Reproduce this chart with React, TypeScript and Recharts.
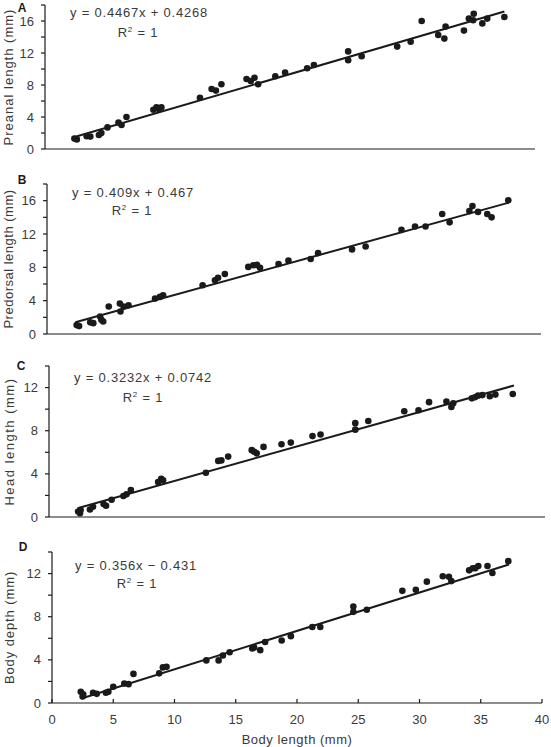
import { ScatterChart, Scatter, XAxis, YAxis } from "recharts";

// shared x ticks (body length, mm)
const xTicks = [0, 5, 10, 15, 20, 25, 30, 35, 40];

// A: preanal length vs body length
const preanalBody = [2.4, 2.6, 3.4, 3.7, 4.4, 4.6, 5.1, 6.0, 6.25, 6.65, 8.85, 9.1, 9.5, 9.3, 12.65, 13.6, 13.95, 14.4, 16.45, 16.8, 17.1, 17.4, 18.8, 19.6, 21.4, 21.95, 24.75, 24.75, 25.85, 28.75, 29.85, 30.75, 32.1, 32.6, 32.7, 34.2, 34.6, 35.0, 34.95, 35.7, 36.1, 37.5];
const preanalLen = [1.3, 1.2, 1.6, 1.55, 1.75, 2.0, 2.7, 3.3, 3.0, 4.0, 4.9, 5.2, 5.2, 5.0, 6.4, 7.5, 7.3, 8.1, 8.75, 8.5, 8.9, 8.1, 9.1, 9.55, 10.1, 10.5, 12.2, 11.1, 11.6, 12.8, 13.4, 16.0, 14.25, 13.8, 15.3, 14.8, 16.3, 16.9, 16.1, 15.7, 16.3, 16.5];

// B: predorsal length vs body length
const predorsalBody = [2.4, 2.6, 3.5, 3.75, 4.3, 4.4, 4.55, 5.0, 5.9, 5.95, 6.2, 6.6, 8.75, 9.15, 9.4, 12.6, 13.6, 13.85, 14.4, 16.3, 16.7, 17.0, 17.25, 18.75, 19.55, 21.35, 21.95, 24.7, 25.8, 28.7, 29.8, 30.65, 32.0, 32.6, 34.2, 34.45, 34.9, 35.65, 36.0, 37.35];
const predorsalLen = [1.07, 0.95, 1.4, 1.3, 2.1, 1.7, 1.5, 3.3, 3.65, 2.7, 3.3, 3.45, 4.25, 4.45, 4.65, 5.85, 6.45, 6.75, 7.2, 8.05, 8.25, 8.3, 7.95, 8.4, 8.8, 9.0, 9.7, 10.15, 10.5, 12.5, 12.9, 12.9, 14.4, 13.4, 14.75, 15.35, 14.65, 14.4, 14.0, 16.05];

// C: head length vs body length
const headBody = [2.35, 2.5, 2.55, 3.3, 3.55, 4.4, 4.6, 5.05, 6.0, 6.25, 6.6, 8.8, 9.05, 9.2, 12.65, 13.65, 13.9, 14.45, 16.35, 16.55, 16.75, 17.3, 18.75, 19.5, 21.25, 21.9, 24.7, 24.7, 25.75, 28.65, 29.8, 30.65, 32.05, 32.45, 32.6, 34.1, 34.35, 34.6, 34.95, 35.55, 36.0, 37.4];
const headLen = [0.5, 0.35, 0.65, 0.7, 0.95, 1.2, 1.05, 1.6, 1.95, 2.1, 2.5, 3.25, 3.55, 3.4, 4.1, 5.2, 5.25, 5.6, 6.2, 6.05, 5.9, 6.5, 6.75, 6.9, 7.5, 7.65, 8.7, 8.1, 8.9, 9.8, 9.9, 10.65, 10.7, 10.2, 10.55, 11.0, 11.1, 11.25, 11.3, 11.2, 11.35, 11.4];

// D: body depth vs body length
const depthBody = [2.35, 2.55, 2.5, 3.35, 3.65, 4.4, 4.6, 5.0, 5.9, 6.25, 6.65, 8.75, 9.05, 9.35, 12.6, 13.6, 13.95, 14.5, 16.35, 16.5, 17.0, 17.4, 18.75, 19.5, 21.25, 21.9, 24.6, 24.6, 25.7, 28.6, 29.7, 30.6, 31.9, 32.4, 32.6, 34.05, 34.35, 34.55, 34.8, 35.55, 35.95, 37.25];
const depthLen = [1.05, 0.8, 0.6, 0.95, 0.85, 0.95, 1.05, 1.5, 1.8, 1.75, 2.7, 2.75, 3.3, 3.35, 3.95, 3.95, 4.4, 4.7, 5.05, 5.15, 4.9, 5.65, 5.8, 6.2, 7.05, 7.05, 8.95, 8.45, 8.65, 10.4, 10.5, 11.25, 11.75, 11.7, 11.3, 12.3, 12.5, 12.5, 12.7, 12.7, 12.05, 13.15];

// regression fits
const slopes = [0.4467, 0.409, 0.3232, 0.356];
const intercepts = [0.4268, 0.467, 0.0742, -0.431];
const equations = ["y = 0.4467x + 0.4268", "y = 0.409x + 0.467", "y = 0.3232x + 0.0742", "y = 0.356x \u2212 0.431"];
const fitFrom = [2.2, 2.3, 2.3, 2.4];
const fitTo = [37.5, 37.4, 37.5, 37.3];

const panelLetters = ["A", "B", "C", "D"];
const yTitles = ["Preanal length (mm)", "Predorsal length (mm)", "Head length (mm)", "Body depth (mm)"];
const yMax = [18, 18, 14, 14];

const bodies = [preanalBody, predorsalBody, headBody, depthBody];
const measures = [preanalLen, predorsalLen, headLen, depthLen];

// page geometry for each panel
const frames = [
  { top: 0, height: 170, plotTop: 5, plotBottom: 149, plotLeft: 45, plotRight: 535, titleX: 8, titleSpacing: 1.0, letter: [22, 8], eq: [139, 12], r2: [138, 32] },
  { top: 170, height: 180, plotTop: 184, plotBottom: 334, plotLeft: 47, plotRight: 541, titleX: 8, titleSpacing: 0.5, letter: [22, 180], eq: [133, 192], r2: [132, 210] },
  { top: 350, height: 180, plotTop: 366, plotBottom: 517, plotLeft: 49, plotRight: 545, titleX: 9, titleSpacing: 1.5, letter: [21, 366], eq: [143, 377], r2: [143, 397] },
  { top: 530, height: 217, plotTop: 552, plotBottom: 703, plotLeft: 52, plotRight: 542, titleX: 9, titleSpacing: 0.9, letter: [23, 547], eq: [136, 565], r2: [137, 583] },
];

const FONT = "'Liberation Sans', Arial, sans-serif";
const INK = "#1a1a1a";
const TEXT = "#3a3a3a";

const Dot = (p: any) => <circle cx={p.cx} cy={p.cy} r={3.3} fill={INK} />;
const NoDot = () => <g />;

function Panel({ i }: { i: number }) {
  const f = frames[i];
  const last = i === 3;
  const points = bodies[i].map((x, k) => ({ x, y: measures[i][k] }));
  const fit = [fitFrom[i], fitTo[i]].map((x) => ({ x, y: slopes[i] * x + intercepts[i] }));
  const yTicks: number[] = [];
  for (let t = 0; t <= yMax[i]; t += 2) yTicks.push(t);

  return (
    <div style={{ position: "absolute", left: 0, top: f.top, width: 551, height: f.height }}>
      <ScatterChart
        width={551}
        height={f.height}
        margin={{ top: f.plotTop - f.top, right: 551 - f.plotRight, left: 0, bottom: 0 }}
        style={{ fontFamily: FONT }}
      >
        <XAxis
          type="number"
          dataKey="x"
          domain={[0, 40]}
          ticks={xTicks}
          height={f.top + f.height - f.plotBottom}
          axisLine={{ stroke: INK, strokeWidth: 1.2 }}
          tickLine={{ stroke: INK, strokeWidth: 1.2 }}
          tickSize={-4}
          tickMargin={16}
          tick={last ? { fill: TEXT, fontSize: 13 } : false}
          label={
            last
              ? { value: "Body length (mm)", position: "insideBottom", offset: 3, fill: TEXT, fontSize: 13, style: { letterSpacing: 0.5 } }
              : undefined
          }
          allowDataOverflow
        />
        <YAxis
          type="number"
          dataKey="y"
          domain={[0, yMax[i]]}
          ticks={yTicks}
          width={f.plotLeft}
          axisLine={{ stroke: INK, strokeWidth: 1.2 }}
          tickLine={{ stroke: INK, strokeWidth: 1.2 }}
          tickSize={4}
          tickMargin={7}
          tick={{ fill: TEXT, fontSize: 13 }}
          tickFormatter={(v: number) => (v % 4 === 0 ? String(v) : "")}
          label={{
            value: yTitles[i],
            angle: -90,
            position: "insideLeft",
            offset: f.titleX,
            fill: TEXT,
            fontSize: 13,
            style: { textAnchor: "middle", letterSpacing: f.titleSpacing },
          }}
          allowDataOverflow
        />
        <Scatter data={points} shape={Dot} isAnimationActive={false} />
        <Scatter data={fit} shape={NoDot} line={{ stroke: INK, strokeWidth: 2 }} isAnimationActive={false} />
      </ScatterChart>
    </div>
  );
}

function Caption({ x, y, children, style }: any) {
  return (
    <div
      style={{
        position: "absolute",
        left: x,
        top: y,
        transform: "translate(-50%, -50%)",
        whiteSpace: "nowrap",
        fontFamily: FONT,
        color: TEXT,
        lineHeight: 1,
        ...style,
      }}
    >
      {children}
    </div>
  );
}

export default function App() {
  return (
    <div style={{ position: "absolute", left: 0, top: 0, width: 551, height: 747, background: "#fff", overflow: "hidden" }}>
      {frames.map((f, i) => (
        <Panel key={i} i={i} />
      ))}
      {frames.map((f, i) => (
        <div key={"t" + i}>
          <Caption x={f.letter[0]} y={f.letter[1]} style={{ fontWeight: "bold", fontSize: 12, color: INK }}>
            {panelLetters[i]}
          </Caption>
          <Caption x={f.eq[0]} y={f.eq[1]} style={{ fontSize: 13, letterSpacing: 0.8 }}>
            {equations[i]}
          </Caption>
          <Caption x={f.r2[0]} y={f.r2[1]} style={{ fontSize: 13, letterSpacing: 0.8 }}>
            R<sup style={{ fontSize: 8, verticalAlign: "5px" }}>2</sup> = 1
          </Caption>
        </div>
      ))}
    </div>
  );
}
